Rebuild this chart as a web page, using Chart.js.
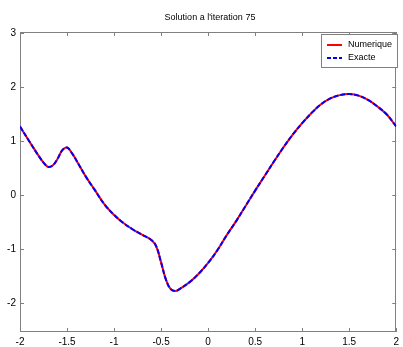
<!DOCTYPE html>
<html>
<head>
<meta charset="utf-8">
<script src="https://cdn.jsdelivr.net/npm/chart.js@4"></script>
<style>
html,body{margin:0;padding:0;background:#fff;}
#wrap{position:relative;width:403px;height:347px;}
</style>
</head>
<body>
<div id="wrap"><canvas id="c" width="403" height="347"></canvas></div>
<script>
const titleText = "Solution a l'iteration 75";
const seriesNames = ["Numerique", "Exacte"];
const xValues = [-2.0,-1.9,-1.8,-1.75,-1.7,-1.65,-1.6,-1.55,-1.5,-1.45,-1.4,-1.3,-1.2,-1.1,-1.0,-0.9,-0.8,-0.7,-0.6,-0.55,-0.5,-0.45,-0.4,-0.35,-0.3,-0.2,-0.1,0.0,0.1,0.2,0.3,0.4,0.5,0.6,0.7,0.8,0.9,1.0,1.1,1.2,1.3,1.4,1.5,1.6,1.7,1.8,1.9,2.0];
const numerique = [1.27,0.99,0.72,0.60,0.52,0.55,0.67,0.83,0.88,0.78,0.64,0.34,0.08,-0.18,-0.37,-0.52,-0.64,-0.74,-0.84,-0.96,-1.25,-1.56,-1.74,-1.78,-1.74,-1.62,-1.46,-1.26,-1.02,-0.74,-0.48,-0.20,0.08,0.35,0.62,0.88,1.12,1.33,1.52,1.68,1.79,1.85,1.87,1.84,1.76,1.64,1.49,1.27];
const exacte = [1.27,0.99,0.72,0.60,0.52,0.55,0.67,0.83,0.88,0.78,0.64,0.34,0.08,-0.18,-0.37,-0.52,-0.64,-0.74,-0.84,-0.96,-1.25,-1.56,-1.74,-1.78,-1.74,-1.62,-1.46,-1.26,-1.02,-0.74,-0.48,-0.20,0.08,0.35,0.62,0.88,1.12,1.33,1.52,1.68,1.79,1.85,1.87,1.84,1.76,1.64,1.49,1.27];
const xTickValues = [-2,-1.5,-1,-0.5,0,0.5,1,1.5,2];
const xTickLabels = ["-2","-1.5","-1","-0.5","0","0.5","1","1.5","2"];
const yTickValues = [-2,-1,0,1,2,3];
const yTickLabels = ["-2","-1","0","1","2","3"];

const FONT = "'Liberation Sans', Arial, Helvetica, sans-serif";
const AXIS_COLOR = '#808080';

const boxPlugin = {
  id: 'matlabBox',
  beforeDatasetsDraw(chart) {
    const {ctx, chartArea: a, scales} = chart;
    ctx.save();
    ctx.strokeStyle = AXIS_COLOR;
    ctx.lineWidth = 1;
    ctx.strokeRect(Math.round(a.left)+0.5, Math.round(a.top)+0.5, Math.round(a.right-a.left)-1, Math.round(a.bottom-a.top)-1);
    ctx.beginPath();
    const tl = 4;
    xTickValues.forEach(v => {
      const px = Math.round(scales.x.getPixelForValue(v))+0.5;
      ctx.moveTo(px, a.bottom); ctx.lineTo(px, a.bottom - tl);
      ctx.moveTo(px, a.top); ctx.lineTo(px, a.top + tl);
    });
    yTickValues.forEach(v => {
      const py = Math.round(scales.y.getPixelForValue(v))+0.5;
      ctx.moveTo(a.left, py); ctx.lineTo(a.left + tl, py);
      ctx.moveTo(a.right, py); ctx.lineTo(a.right - tl, py);
    });
    ctx.stroke();
    ctx.restore();
  },
  afterDraw(chart) {
    const {ctx} = chart;
    ctx.save();
    ctx.fillStyle = '#000';
    ctx.font = '9px ' + FONT;
    ctx.textAlign = 'center';
    ctx.textBaseline = 'middle';
    ctx.fillText(titleText, 210, 18);
    const bx = 321, by = 34, bw = 76, bh = 33;
    ctx.fillStyle = '#fff';
    ctx.fillRect(bx, by, bw, bh);
    ctx.strokeStyle = AXIS_COLOR;
    ctx.lineWidth = 1;
    ctx.strokeRect(bx+0.5, by+0.5, bw, bh);
    ctx.lineWidth = 2;
    ctx.strokeStyle = '#ff0000';
    ctx.beginPath(); ctx.moveTo(327, 45); ctx.lineTo(342, 45); ctx.stroke();
    ctx.strokeStyle = '#0000ff';
    ctx.setLineDash([4,2]);
    ctx.beginPath(); ctx.moveTo(327, 58); ctx.lineTo(342, 58); ctx.stroke();
    ctx.setLineDash([]);
    ctx.fillStyle = '#000';
    ctx.font = '9px ' + FONT;
    ctx.textAlign = 'left';
    ctx.fillText(seriesNames[0], 348, 45);
    ctx.fillText(seriesNames[1], 348, 58);
    ctx.restore();
  }
};

new Chart(document.getElementById('c'), {
  type: 'line',
  data: {
    datasets: [
      {
        label: seriesNames[0],
        data: xValues.map((x,i)=>({x, y: numerique[i]})),
        borderColor: '#ff0000',
        borderWidth: 2,
        pointRadius: 0,
        tension: 0.4,
        order: 1,
        fill: false
      },
      {
        label: seriesNames[1],
        data: xValues.map((x,i)=>({x, y: exacte[i]})),
        borderColor: '#0000ff',
        borderWidth: 2,
        borderDash: [5,2],
        pointRadius: 0,
        tension: 0.4,
        order: 0,
        fill: false
      }
    ]
  },
  options: {
    responsive: false,
    animation: false,
    layout: { padding: { top: 32, right: 3, left: 0, bottom: 0 } },
    plugins: { legend: { display: false }, title: { display: false }, tooltip: { enabled: false } },
    scales: {
      x: {
        type: 'linear', min: -2, max: 2,
        grid: { display: false, drawTicks: false },
        border: { display: false },
        afterBuildTicks: s => { s.ticks = xTickValues.map(v => ({value: v})); },
        afterFit: s => { s.height = 15; },
        ticks: {
          padding: 4, color: '#000', maxRotation: 0, autoSkip: false,
          font: { family: FONT, size: 10 },
          callback: (v) => xTickLabels[xTickValues.indexOf(v)]
        }
      },
      y: {
        type: 'linear', min: -2.54, max: 3.02,
        grid: { display: false, drawTicks: false },
        border: { display: false },
        afterBuildTicks: s => { s.ticks = yTickValues.map(v => ({value: v})); },
        afterFit: s => { s.width = 20; },
        ticks: {
          padding: 4, color: '#000', autoSkip: false,
          font: { family: FONT, size: 10 },
          callback: (v) => yTickLabels[yTickValues.indexOf(v)]
        }
      }
    }
  },
  plugins: [boxPlugin]
});
</script>
</body>
</html>
